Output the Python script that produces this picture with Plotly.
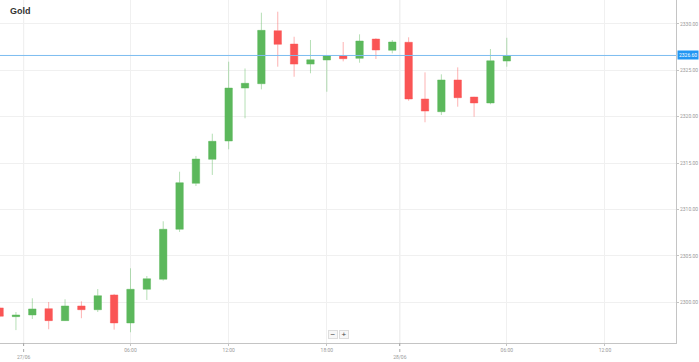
import plotly.graph_objects as go

# ---- data (hourly candles, index = candle number) ----
candle_index = list(range(32))
opens = [2299.39, 2298.45, 2298.63, 2299.31, 2298.02, 2299.60, 2299.20, 2300.79,
         2297.77, 2301.40, 2302.48, 2307.87, 2312.82, 2315.41, 2317.38, 2323.09,
         2323.56, 2329.27, 2327.83, 2325.67, 2326.11, 2326.54, 2326.29, 2328.37,
         2327.16, 2328.02, 2321.91, 2320.54, 2323.96, 2322.12, 2321.48, 2326.00]
highs = [2299.55, 2298.95, 2300.43, 2300.03, 2300.32, 2300.10, 2301.43, 2300.90,
         2303.66, 2302.83, 2308.73, 2314.07, 2315.77, 2318.17, 2325.93, 2325.20,
         2331.21, 2331.32, 2328.62, 2328.27, 2326.65, 2328.05, 2328.88, 2328.45,
         2328.27, 2328.56, 2324.78, 2324.57, 2325.32, 2322.15, 2327.30, 2328.51]
lows = [2298.35, 2297.00, 2298.20, 2297.09, 2297.98, 2298.28, 2298.95, 2297.05,
        2296.77, 2300.25, 2302.33, 2307.58, 2312.53, 2313.72, 2316.49, 2319.83,
        2322.95, 2325.39, 2324.31, 2324.68, 2322.69, 2325.97, 2325.82, 2326.22,
        2326.83, 2321.72, 2319.40, 2320.18, 2321.08, 2320.00, 2321.34, 2325.39]
closes = [2298.49, 2298.63, 2299.28, 2298.02, 2299.60, 2299.20, 2300.71, 2297.77,
          2301.40, 2302.54, 2307.87, 2312.89, 2315.44, 2317.35, 2323.09, 2323.60,
          2329.31, 2327.80, 2325.67, 2326.14, 2326.57, 2326.25, 2328.16, 2327.19,
          2328.05, 2321.91, 2320.61, 2323.96, 2322.05, 2321.48, 2326.03, 2326.57]
current_price = 2326.60

time_tick_pos = [8, 14, 20, 31, 37]
time_tick_labels = ["06:00", "12:00", "18:00", "06:00", "12:00"]
date_tick_pos = [1.47, 24.46]
date_tick_labels = ["27/06", "28/06"]
price_ticks = [2300, 2305, 2310, 2315, 2320, 2325, 2330]
title_text = "Gold"

X_RANGE = [0.025, 41.34]

# ---- figure ----
fig = go.Figure()
fig.add_trace(go.Candlestick(
    x=candle_index, open=opens, high=highs, low=lows, close=closes,
    increasing=dict(line=dict(color="rgba(92,184,92,0.45)", width=1), fillcolor="#5cb85c"),
    decreasing=dict(line=dict(color="rgba(250,85,85,0.45)", width=1), fillcolor="#fa5555"),
    showlegend=False, hoverinfo="skip",
))
fig.add_trace(go.Scatter(
    x=X_RANGE, y=[current_price, current_price], mode="lines",
    line=dict(color="#7dbdf0", width=1), showlegend=False, hoverinfo="skip",
))

tickvals = time_tick_pos + date_tick_pos
ticktext = time_tick_labels + ["<br>" + d for d in date_tick_labels]

shapes = []
for d in date_tick_pos:
    shapes.append(dict(type="line", xref="x", yref="paper", x0=d, x1=d, y0=0, y1=1,
                       line=dict(color="#e4e4e4", width=1), layer="below"))
    shapes.append(dict(type="line", xref="x", yref="paper", x0=d, x1=d, y0=0, y1=-0.035,
                       line=dict(color="#aaaaaa", width=1, dash="dot"), layer="above"))

annotations = [
    dict(text="<b>%s</b>" % title_text, xref="paper", yref="paper",
         x=8 / 676, y=1 - 11 / 343, xanchor="left", yanchor="middle",
         showarrow=False, font=dict(size=9, color="#333333", family="Liberation Sans")),
    dict(text="%.2f" % current_price, xref="paper", yref="y", x=1, y=current_price,
         xanchor="left", yanchor="middle", xshift=1, showarrow=False,
         bgcolor="#2196f3", borderpad=1,
         font=dict(size=5, color="white", family="Roboto")),
    dict(text="−", xref="paper", yref="paper", x=333 / 676, y=9 / 343,
         xanchor="center", yanchor="middle", showarrow=False,
         bgcolor="#f7f7f7", bordercolor="#dddddd", borderwidth=1, borderpad=0,
         width=8, height=7, font=dict(size=8, color="#444444", family="Liberation Sans")),
    dict(text="+", xref="paper", yref="paper", x=344 / 676, y=9 / 343,
         xanchor="center", yanchor="middle", showarrow=False,
         bgcolor="#f7f7f7", bordercolor="#dddddd", borderwidth=1, borderpad=0,
         width=8, height=7, font=dict(size=8, color="#444444", family="Liberation Sans")),
]

fig.update_layout(
    width=699, height=362,
    margin=dict(l=0, r=23, t=0, b=19),
    paper_bgcolor="white", plot_bgcolor="white",
    boxgap=0.35,
    shapes=shapes, annotations=annotations,
    font=dict(family="Roboto", size=5, color="#999999"),
    xaxis=dict(range=X_RANGE, rangeslider=dict(visible=False),
               tickmode="array", tickvals=tickvals, ticktext=ticktext,
               showgrid=True, gridcolor="#f0f0f0", gridwidth=1,
               showline=True, linecolor="#c4c4c4", linewidth=1,
               ticks="outside", ticklen=2, tickcolor="#c4c4c4",
               tickfont=dict(size=5, color="#999999"), zeroline=False),
    yaxis=dict(range=[2295.61, 2332.58], side="right",
               tickmode="array", tickvals=price_ticks,
               ticktext=["%.2f" % v for v in price_ticks],
               showgrid=True, gridcolor="#f0f0f0", gridwidth=1,
               showline=True, linecolor="#c4c4c4", linewidth=1,
               ticks="outside", ticklen=2, tickcolor="#c4c4c4",
               tickfont=dict(size=5, color="#999999"), zeroline=False),
)

fig.write_html("out.html", config={"displayModeBar": False},
               post_script="document.body.style.margin='0';document.body.style.padding='0';")
